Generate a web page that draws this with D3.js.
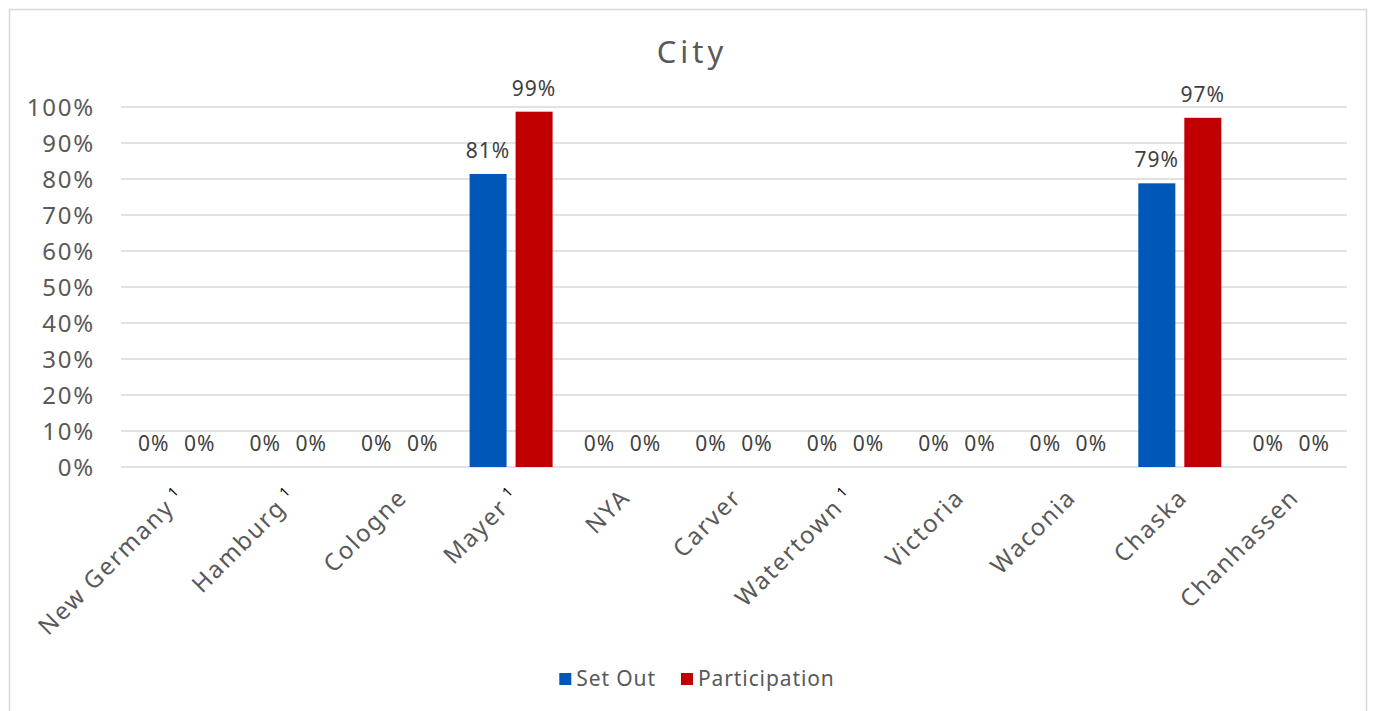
<!DOCTYPE html>
<html>
<head>
<meta charset="utf-8">
<script src="https://cdn.jsdelivr.net/npm/d3@7"></script>
<style>
  html, body { margin: 0; padding: 0; background: #ffffff; }
  svg { display: block; font-family: "Noto Sans", "Open Sans", sans-serif; }
</style>
</head>
<body>
<svg id="chart" width="1377" height="711"></svg>
<script>
// City names; footnoted ones carry a superscript "1"
const cities = ["New Germany", "Hamburg", "Cologne", "Mayer", "NYA", "Carver",
                "Watertown", "Victoria", "Waconia", "Chaska", "Chanhassen"];
const footnoted = ["New Germany", "Hamburg", "Mayer", "Watertown"];

const seriesNames = ["Set Out", "Participation"];
const setOut        = [0, 0, 0, 0.814, 0, 0, 0, 0, 0, 0.788, 0];
const participation = [0, 0, 0, 0.987, 0, 0, 0, 0, 0, 0.970, 0];

const yTicks = [0, 0.1, 0.2, 0.3, 0.4, 0.5, 0.6, 0.7, 0.8, 0.9, 1.0];
const title = "City";

const colors = { "Set Out": "#0057B8", "Participation": "#C00000" };
const textColor = "#595959";
const gridColor = "#d9d9d9";

const svg = d3.select("#chart");
const plot = { left: 121, right: 1347, top: 107, bottom: 467 };

// outer chart frame
svg.append("rect")
  .attr("x", 9.5).attr("y", 9.5)
  .attr("width", 1357).attr("height", 720)
  .attr("fill", "#ffffff")
  .attr("stroke", gridColor).attr("stroke-width", 1.5);

// title
svg.append("text")
  .attr("x", 692).attr("y", 63)
  .attr("text-anchor", "middle")
  .attr("font-size", 31)
  .attr("letter-spacing", 4)
  .attr("fill", textColor)
  .text(title);

const x0 = d3.scaleBand().domain(cities).range([plot.left, plot.right]).padding(0);
const x1 = d3.scaleBand().domain(seriesNames).range([0, x0.bandwidth()])
  .paddingInner(0.1957).paddingOuter(0.309);
const y = d3.scaleLinear().domain([0, 1]).range([plot.bottom, plot.top]);

// horizontal gridlines
svg.append("g").selectAll("line").data(yTicks).join("line")
  .attr("x1", plot.left).attr("x2", plot.right)
  .attr("y1", d => y(d)).attr("y2", d => y(d))
  .attr("stroke", gridColor).attr("stroke-width", 1.5);

// y axis labels
const yAxis = d3.axisLeft(y).tickValues(yTicks).tickFormat(d3.format(".0%")).tickSize(0).tickPadding(0);
const gy = svg.append("g").attr("transform", "translate(95,0)").call(yAxis);
gy.select(".domain").remove();
gy.selectAll("text")
  .attr("font-family", "Noto Sans, sans-serif")
  .attr("font-size", 24)
  .attr("letter-spacing", 1.8)
  .attr("fill", textColor)
  .attr("dy", "0.36em");

// bars
const rows = cities.map((c, i) => ({ city: c, values: [
  { key: "Set Out", value: setOut[i] },
  { key: "Participation", value: participation[i] }
]}));

const groups = svg.append("g").selectAll("g").data(rows).join("g")
  .attr("transform", d => `translate(${x0(d.city)},0)`);

groups.selectAll("rect").data(d => d.values).join("rect")
  .attr("x", d => x1(d.key))
  .attr("width", x1.bandwidth())
  .attr("y", d => y(d.value))
  .attr("height", d => y(0) - y(d.value))
  .attr("fill", d => colors[d.key]);

// value labels
groups.selectAll("text").data(d => d.values).join("text")
  .attr("x", d => x1(d.key) + x1.bandwidth() / 2)
  .attr("y", d => y(d.value) - 16)
  .attr("text-anchor", "middle")
  .attr("font-size", 21)
  .attr("letter-spacing", 1)
  .attr("fill", "#404040")
  .text(d => d3.format(".0%")(d.value));

// rotated category labels
const xl = svg.append("g").selectAll("text").data(cities).join("text")
  .attr("transform", d => `translate(${x0(d) + x0.bandwidth() / 2 + 9},499) rotate(-45)`)
  .attr("text-anchor", "end")
  .attr("font-size", 24)
  .attr("letter-spacing", 1.8)
  .attr("fill", textColor);
xl.append("tspan").text(d => d);
const fn = xl.filter(d => footnoted.includes(d));
fn.append("tspan").attr("letter-spacing", 0).text(" ");
fn.append("tspan")
  .attr("font-size", 14)
  .attr("dy", -9)
  .attr("fill", "#000000")
  .attr("letter-spacing", 0)
  .text("1");

// legend
const legend = svg.append("g");
let lx = 0;
seriesNames.forEach((name) => {
  const item = legend.append("g").attr("transform", `translate(${lx},0)`);
  item.append("rect").attr("x", 0).attr("y", 673).attr("width", 12).attr("height", 12)
    .attr("fill", colors[name]);
  const t = item.append("text").attr("x", 17).attr("y", 686)
    .attr("font-size", 21).attr("letter-spacing", 0.9)
    .attr("fill", textColor).text(name);
  lx += 17 + t.node().getComputedTextLength() + 25;
});
const lw = lx - 25;
legend.attr("transform", `translate(${697 - lw / 2},0)`);
</script>
</body>
</html>
